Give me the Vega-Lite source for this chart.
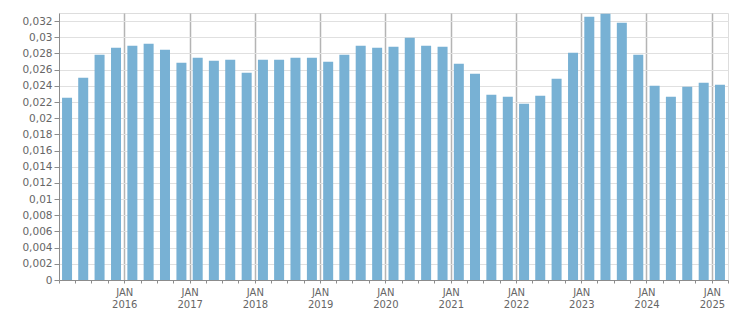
{
  "$schema": "https://vega.github.io/schema/vega-lite/v6.json",
  "width": 669,
  "height": 267,
  "autosize": "none",
  "padding": {"left": 59, "top": 13, "right": 23, "bottom": 33},
  "config": {
    "view": {"stroke": "#dddddd", "strokeWidth": 1},
    "axis": {"labelFont": "DejaVu Sans", "labelFontSize": 10, "labelColor": "#666666"}
  },
  "data": {
    "values": [
      {"date": "2015-01-01", "v": 0.02252},
      {"date": "2015-04-01", "v": 0.02499},
      {"date": "2015-07-01", "v": 0.02784},
      {"date": "2015-10-01", "v": 0.0287},
      {"date": "2016-01-01", "v": 0.02895},
      {"date": "2016-04-01", "v": 0.0292},
      {"date": "2016-07-01", "v": 0.02845},
      {"date": "2016-10-01", "v": 0.02685},
      {"date": "2017-01-01", "v": 0.02746},
      {"date": "2017-04-01", "v": 0.02709},
      {"date": "2017-07-01", "v": 0.02722},
      {"date": "2017-10-01", "v": 0.02561},
      {"date": "2018-01-01", "v": 0.02722},
      {"date": "2018-04-01", "v": 0.02722},
      {"date": "2018-07-01", "v": 0.02746},
      {"date": "2018-10-01", "v": 0.02746},
      {"date": "2019-01-01", "v": 0.02697},
      {"date": "2019-04-01", "v": 0.02784},
      {"date": "2019-07-01", "v": 0.02895},
      {"date": "2019-10-01", "v": 0.0287},
      {"date": "2020-01-01", "v": 0.02882},
      {"date": "2020-04-01", "v": 0.02994},
      {"date": "2020-07-01", "v": 0.02895},
      {"date": "2020-10-01", "v": 0.02882},
      {"date": "2021-01-01", "v": 0.02672},
      {"date": "2021-04-01", "v": 0.02549},
      {"date": "2021-07-01", "v": 0.02289},
      {"date": "2021-10-01", "v": 0.02264},
      {"date": "2022-01-01", "v": 0.02177},
      {"date": "2022-04-01", "v": 0.02276},
      {"date": "2022-07-01", "v": 0.02487},
      {"date": "2022-10-01", "v": 0.02808},
      {"date": "2023-01-01", "v": 0.03254},
      {"date": "2023-04-01", "v": 0.03291},
      {"date": "2023-07-01", "v": 0.03179},
      {"date": "2023-10-01", "v": 0.02784},
      {"date": "2024-01-01", "v": 0.024},
      {"date": "2024-04-01", "v": 0.02264},
      {"date": "2024-07-01", "v": 0.02388},
      {"date": "2024-10-01", "v": 0.02437},
      {"date": "2025-01-01", "v": 0.02412}
    ]
  },
  "mark": {"type": "bar", "color": "#78b1d4", "width": 10},
  "encoding": {
    "x": {
      "field": "date",
      "type": "temporal",
      "timeUnit": "utcyearquarter",
      "bandPosition": 0.5,
      "title": null,
      "scale": {
        "type": "utc",
        "domain": [
          {"year": 2015, "month": 1, "date": 1, "utc": true},
          {"year": 2025, "month": 4, "date": 1, "utc": true}
        ]
      },
      "axis": {
        "tickCount": {"interval": "month", "step": 3},
        "labelExpr": "utcmonth(datum.value) === 0 && utcyear(datum.value) > 2015 ? [upper(utcFormat(datum.value, '%b')), utcFormat(datum.value, '%Y')] : ''",
        "labelLineHeight": 12,
        "labelPadding": 4,
        "labelFlush": false,
        "labelOverlap": false,
        "domainColor": "#8c8c8c",
        "tickColor": "#8c8c8c",
        "tickSize": 3,
        "grid": true,
        "gridColor": {"condition": {"test": "utcmonth(datum.value) === 0 && utcyear(datum.value) > 2015", "value": "#b4b4b4"}, "value": "rgba(0,0,0,0)"},
        "gridWidth": 1.5
      }
    },
    "y": {
      "field": "v",
      "type": "quantitative",
      "title": null,
      "scale": {"domain": [0, 0.033], "nice": false},
      "axis": {
        "values": [0, 0.002, 0.004, 0.006, 0.008, 0.01, 0.012, 0.014, 0.016, 0.018, 0.02, 0.022, 0.024, 0.026, 0.028, 0.03, 0.032],
        "labelExpr": "replace(format(datum.value, '~g'), '.', ',')",
        "domainColor": "#8c8c8c",
        "tickColor": "#8c8c8c",
        "tickSize": 5,
        "labelPadding": 2,
        "gridColor": "#e0e0e0",
        "labelFontSize": 10.5
      }
    }
  }
}
